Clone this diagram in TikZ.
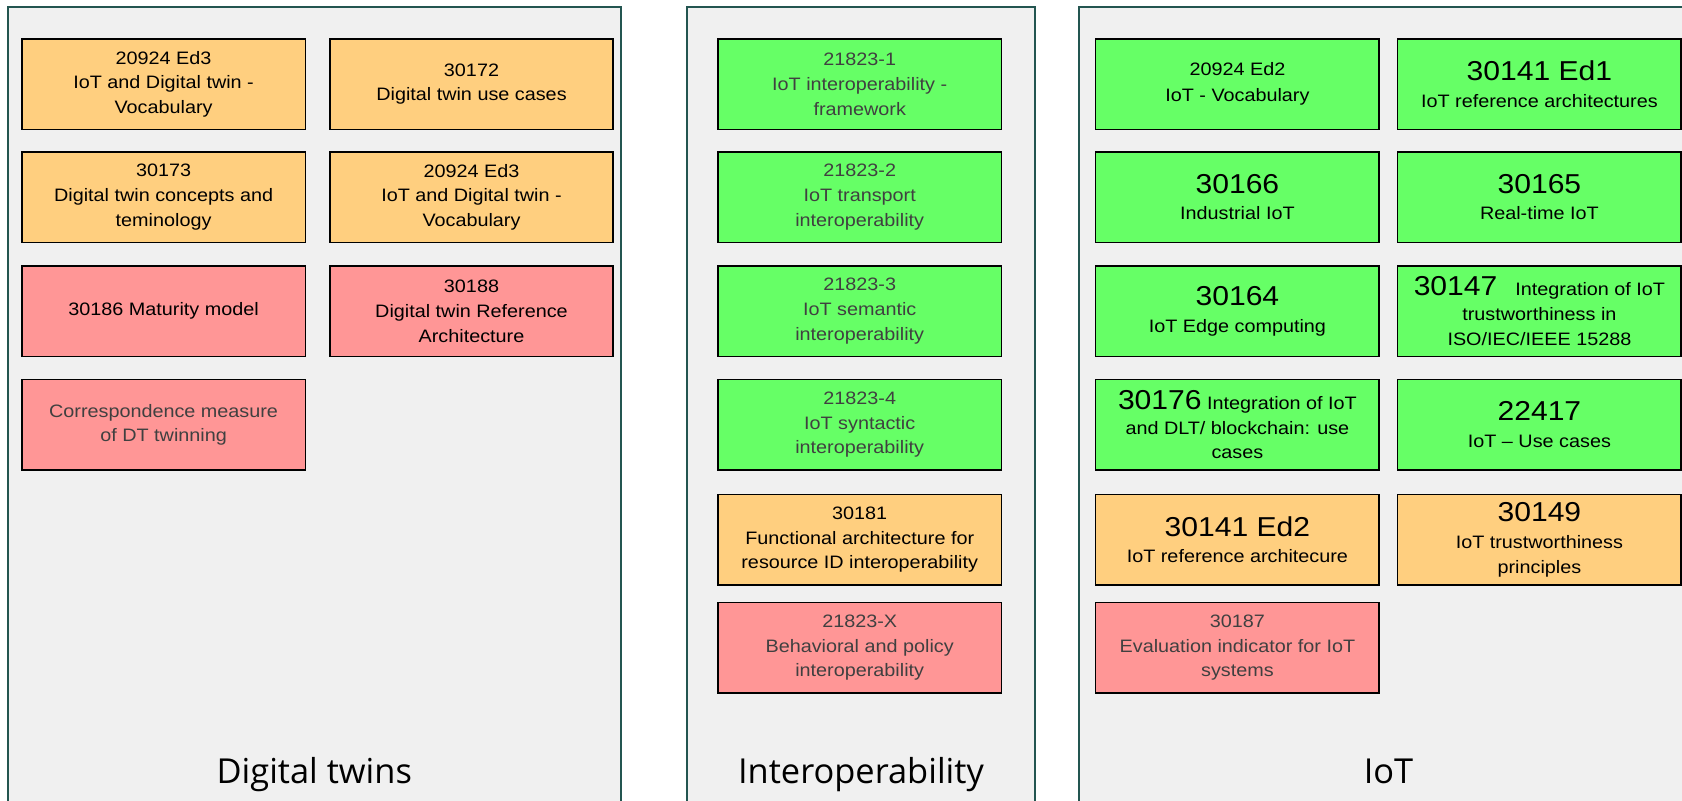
\documentclass[tikz,border=0pt]{standalone}
\usepackage{fontspec}
\setmainfont{Liberation Sans}
\newfontfamily\boxfont[FakeStretch=1.1]{Liberation Sans}
\newfontfamily\titlefont{Open Sans}
\usepackage{xcolor}
\usepackage{tikz}
\definecolor{panelgray}{RGB}{240,240,240}
\definecolor{panelteal}{RGB}{35,85,80}
\definecolor{stdorange}{RGB}{255,207,127}
\definecolor{stdgreen}{RGB}{102,255,102}
\definecolor{stdred}{RGB}{255,150,150}
\definecolor{textgray}{RGB}{64,64,64}
\newcommand{\bignum}[1]{{\fontsize{20.5}{22}\selectfont #1}}

\begin{document}
\begin{tikzpicture}[x=0.75pt, y=-0.75pt,
  panel/.style={draw=panelteal, line width=1.7pt, fill=panelgray},
  stdbox/.style={draw=black, line width=1.1pt, fill=#1,
                 minimum width=212.5pt, minimum height=68pt,
                 align=center, inner sep=2pt,
                 font=\boxfont\fontsize{13.5}{18.5}\selectfont},
  dim/.style={text=textgray},
  title/.style={font=\titlefont\fontsize{25.8}{30}\selectfont, anchor=base},
]
  \clip (0,0) rectangle (1682,800);
  \fill[white] (0,0) rectangle (1682,800);

  % ---- Panels ----
  \draw[panel] (8,6.7) rectangle (620.7,830);
  \draw[panel] (687,6.7) rectangle (1035,830);
  \draw[panel] (1079,6.7) rectangle (1700,830);
  \node[title] (ttldt) at (314.3,783) {Digital twins};
  \node[title] (ttlio) at (861,783) {Interoperability};
  \node[title] (ttliot) at (1388.5,783) {IoT};

  % ---- Digital twins ----
  \node[stdbox=stdorange] (dtvoc) at (163.6,84.2) {20924 Ed3\\IoT and Digital twin -\\Vocabulary};
  \node[stdbox=stdorange] (dtuse) at (471.5,84.2) {30172\\Digital twin use cases};
  \node[stdbox=stdorange] (dtconc) at (163.6,197.2) {30173\\Digital twin concepts and\\teminology};
  \node[stdbox=stdorange] (dtvocb) at (471.5,197.2) {20924 Ed3\\IoT and Digital twin -\\Vocabulary};
  \node[stdbox=stdred] (dtmat) at (163.6,311.2) {30186 Maturity model};
  \node[stdbox=stdred] (dtref) at (471.5,311.2) {30188\\Digital twin Reference\\Architecture};
  \node[stdbox=stdred, dim] (dtcorr) at (163.6,424.8) {Correspondence measure\\of DT twinning};

  % ---- Interoperability ----
  \node[stdbox=stdgreen, dim] (iofrm) at (859.7,84.2) {21823-1\\IoT interoperability -\\framework};
  \node[stdbox=stdgreen, dim] (iotrn) at (859.7,197.2) {21823-2\\IoT transport\\interoperability};
  \node[stdbox=stdgreen, dim] (iosem) at (859.7,311.2) {21823-3\\IoT semantic\\interoperability};
  \node[stdbox=stdgreen, dim] (iosyn) at (859.7,424.8) {21823-4\\IoT syntactic\\interoperability};
  \node[stdbox=stdorange] (iofunc) at (859.7,539.7) {30181\\Functional architecture for\\resource ID interoperability};
  \node[stdbox=stdred, dim] (iobeh) at (859.7,647.7) {21823-X\\Behavioral and policy\\interoperability};

  % ---- IoT ----
  \node[stdbox=stdgreen] (iotvoc) at (1237.4,84.2) {20924 Ed2\\[1pt]IoT - Vocabulary};
  \node[stdbox=stdgreen] (iotra) at (1539.4,84.2) {\bignum{30141 Ed1}\\[1.5pt]IoT reference architectures};
  \node[stdbox=stdgreen] (iotind) at (1237.4,197.2) {\bignum{30166}\\[1.5pt]Industrial IoT};
  \node[stdbox=stdgreen] (iotrt) at (1539.4,197.2) {\bignum{30165}\\[1.5pt]Real-time IoT};
  \node[stdbox=stdgreen] (iotedge) at (1237.4,311.2) {\bignum{30164}\\[1.5pt]IoT Edge computing};
  \node[stdbox=stdgreen] (iottrust) at (1539.4,311.2) {\bignum{30147}\quad Integration of IoT\\trustworthiness in\\ISO/IEC/IEEE 15288};
  \node[stdbox=stdgreen] (iotdlt) at (1237.4,424.8) {\bignum{30176} Integration of IoT\\and DLT/ blockchain: use\\cases};
  \node[stdbox=stdgreen] (iotuse) at (1539.4,424.8) {\bignum{22417}\\[1.5pt]IoT \textendash\ Use cases};
  \node[stdbox=stdorange] (iotrab) at (1237.4,539.7) {\bignum{30141 Ed2}\\[1.5pt]IoT reference architecure};
  \node[stdbox=stdorange] (iotprin) at (1539.4,539.7) {\bignum{30149}\\[1.5pt]IoT trustworthiness\\principles};
  \node[stdbox=stdred, dim] (iotevl) at (1237.4,647.7) {30187\\Evaluation indicator for IoT\\systems};
\end{tikzpicture}
\end{document}
